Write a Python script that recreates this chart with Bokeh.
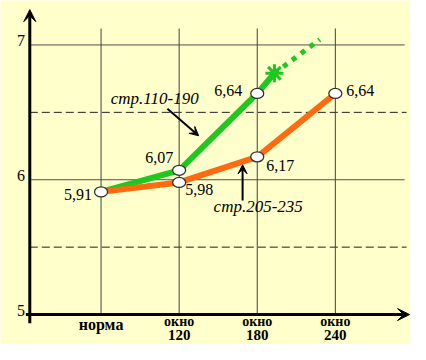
import math
from bokeh.plotting import figure
from bokeh.models import ColumnDataSource, Range1d, Arrow, VeeHead
from bokeh.core.properties import value
from bokeh.embed import file_html
from bokeh.resources import INLINE

# ---- data ----
cat_top = ["норма", "окно", "окно", "окно"]
cat_bottom = ["", "120", "180", "240"]
cat_pos = [1, 2, 3, 4]
green_vals = [5.91, 6.07, 6.64]          # стр.110-190
orange_vals = [5.91, 5.98, 6.17, 6.64]   # стр.205-235
green_star = (3.22, 6.79)                # extrapolation mark
green_dotted_end = (3.8, 7.04)
y_ticks = [5, 6, 7]
y_dashed = [5.5, 6.5]
note_green = "стр.110-190"
note_orange = "стр.205-235"

SERIF = value("Liberation Serif")
BG = "#FFFFCC"
GREEN = "#1EC81E"
ORANGE = "#FF6A10"

p = figure(width=410, height=344, output_backend="svg", toolbar_location=None,
           x_range=Range1d(-0.2875, 4.9625), y_range=Range1d(4.7778, 7.3297),
           min_border=0)
p.background_fill_color = BG
p.border_fill_color = BG
p.outline_line_color = None
p.grid.visible = False
p.axis.visible = False

axis_x = 0.0875
# grid
p.segment(x0=[axis_x] * 2, y0=[7, 6], x1=[4.8875] * 2, y1=[7, 6],
          line_color="#505050", line_width=1)
p.segment(x0=[axis_x] * 2, y0=y_dashed, x1=[4.9125] * 2, y1=y_dashed,
          line_color="#202020", line_width=1, line_dash="8 4")
p.segment(x0=cat_pos, y0=[5] * 4, x1=cat_pos, y1=[7.122] * 4,
          line_color="#404040", line_width=1)

# axes with arrows
p.add_layout(Arrow(end=VeeHead(size=12, fill_color="black", line_color="black"),
                   x_start=axis_x, y_start=4.935, x_end=axis_x, y_end=7.262,
                   line_width=3, line_color="black"))
p.add_layout(Arrow(end=VeeHead(size=12, fill_color="black", line_color="black"),
                   x_start=0.0375, y_start=5.0, x_end=4.95, y_end=5.0,
                   line_width=3, line_color="black"))

# y tick labels
p.text(x=[0.025] * 3, y=y_ticks, text=[str(t) for t in y_ticks],
       text_font=SERIF, text_font_size="16px", text_align="right",
       text_baseline="middle", y_offset=-4, text_color="black")

# category labels
p.text(x=cat_pos[:1], y=[4.925], text=cat_top[:1], text_font=SERIF,
       text_font_size="16px", text_font_style="bold", text_align="center",
       text_baseline="middle")
p.text(x=cat_pos[1:], y=[4.945] * 3, text=cat_top[1:], text_font=SERIF,
       text_font_size="14px", text_font_style="bold", text_align="center",
       text_baseline="middle")
p.text(x=cat_pos[1:], y=[4.845] * 3, text=cat_bottom[1:], text_font=SERIF,
       text_font_size="15px", text_font_style="bold", text_align="center",
       text_baseline="middle")

# green series
gx = cat_pos[:len(green_vals)]
p.line(gx + [green_star[0]], green_vals + [green_star[1]],
       line_color=GREEN, line_width=6)
p.line([green_star[0], green_dotted_end[0]], [green_star[1], green_dotted_end[1]],
       line_color=GREEN, line_width=5, line_dash="5 6")
p.scatter([green_star[0]], [green_star[1]], marker="asterisk", size=18,
          angle=math.pi / 2, line_color=GREEN, line_width=3)

# orange series
p.line(cat_pos, orange_vals, line_color=ORANGE, line_width=6)

# point markers
mx = gx + cat_pos[1:]
my = green_vals + orange_vals[1:]
p.ellipse(x=mx, y=my, width=13, height=10, width_units="screen",
          height_units="screen", fill_color="white", line_color="#303030",
          line_width=1.3)

# value labels
lv = [green_vals[0], orange_vals[1], green_vals[1], green_vals[2], orange_vals[2], orange_vals[3]]
lab = ColumnDataSource(dict(
    x=[1, 2, 2, 3, 3, 4],
    y=lv,
    text=[f"{v:.2f}".replace(".", ",") for v in lv],
    align=["right", "left", "right", "right", "left", "left"],
    dx=[-9, 6, -6, -15, 9, 11],
    dy=[3, 7, -13, -3, 9, -3],
))
p.text(x="x", y="y", text="text", source=lab, text_align="align",
       x_offset="dx", y_offset="dy", text_baseline="middle",
       text_font=SERIF, text_font_size="16px", text_color="black")

# notes with arrows
p.text(x=[1.6875], y=[6.606], text=[note_green], text_font=SERIF,
       text_font_size="17px", text_font_style="italic", text_align="center",
       text_baseline="middle")
p.add_layout(Arrow(end=VeeHead(size=9, fill_color="black", line_color="black"),
                   x_start=1.85, y_start=6.527, x_end=2.25, y_end=6.326,
                   line_width=2, line_color="black"))
p.text(x=[3.0125], y=[5.803], text=[note_orange], text_font=SERIF,
       text_font_size="17px", text_font_style="italic", text_align="center",
       text_baseline="middle")
p.add_layout(Arrow(end=VeeHead(size=9, fill_color="black", line_color="black"),
                   x_start=2.8125, y_start=5.846, x_end=2.8125, y_end=6.111,
                   line_width=2, line_color="black"))

open("out.html", "w").write(file_html(p, INLINE))
